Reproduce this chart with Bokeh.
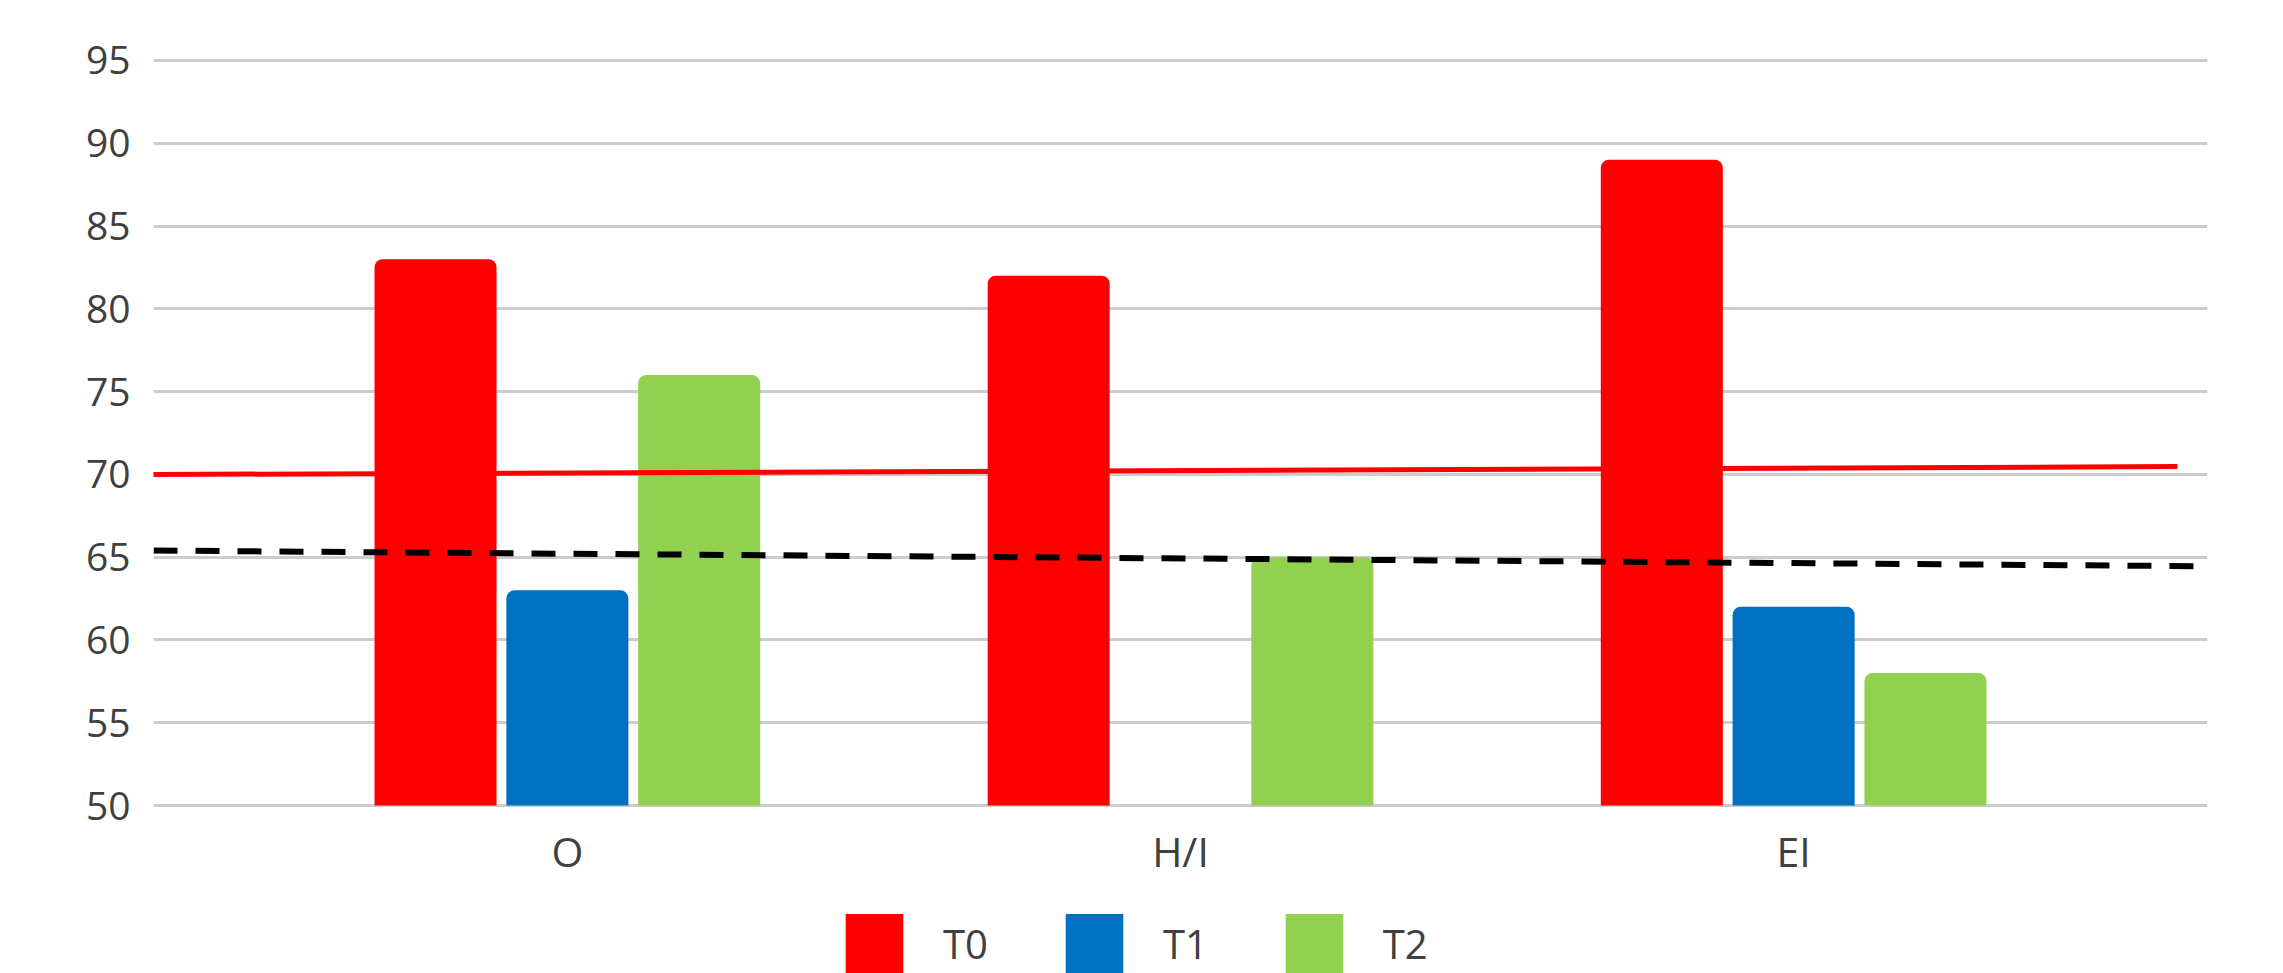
import numpy as np
from bokeh.plotting import figure
from bokeh.models import (ColumnDataSource, FactorRange, Range1d, FixedTicker,
                          Legend, LegendItem)
from bokeh.transform import dodge
from bokeh.embed import file_html
from bokeh.resources import INLINE

# ---- data ----
categories = ["O", "H/I", "EI"]
t0 = [83, 82, 89]
t1 = [63, None, 62]          # no T1 value for H/I
t2 = [76, 65, 58]
series_names = ["T0", "T1", "T2"]
series_colors = ["#FF0000", "#0070C0", "#92D050"]
y_ticks = [50, 55, 60, 65, 70, 75, 80, 85, 90, 95]

# reference lines (synthetic categorical x, value y)
red_line_x = [-0.19, 3.126]
red_line_y = [69.99, 70.47]
dash_line_x = [-0.175, 3.21]
dash_line_y = [65.40, 64.44]


def as_float(vals):
    return np.array([np.nan if v is None else v for v in vals], dtype=float)


source = ColumnDataSource(data=dict(cat=categories, T0=as_float(t0),
                                    T1=as_float(t1), T2=as_float(t2)))

FONT = "Open Sans"
TXT = "#404040"

p = figure(width=2283, height=973, output_backend="svg", toolbar_location=None,
           x_range=FactorRange(factors=categories, range_padding=0.175,
                               range_padding_units="absolute"),
           y_range=Range1d(39.853, 95.181),
           min_border_left=153, min_border_right=76,
           min_border_top=57, min_border_bottom=0)
p.outline_line_color = None
p.background_fill_color = "white"
p.border_fill_color = "white"

# grid
p.xgrid.grid_line_color = None
p.ygrid.grid_line_color = "#cccccc"
p.ygrid.grid_line_width = 3
p.yaxis.ticker = FixedTicker(ticks=y_ticks)

# axes
for ax in (p.xaxis, p.yaxis):
    ax.axis_line_color = None
    ax.major_tick_line_color = None
    ax.minor_tick_line_color = None
    ax.major_label_text_font = FONT
    ax.major_label_text_color = TXT
p.yaxis.major_label_text_font_size = "39px"
p.yaxis.major_label_standoff = 17
p.xaxis.major_label_text_font_size = "41px"
p.xaxis.major_label_standoff = 11
p.xaxis.fixed_location = 50

offsets = [-0.215, 0.0, 0.215]
renderers = []
for name, col, off in zip(series_names, series_colors, offsets):
    r = p.vbar(x=dodge("cat", off, range=p.x_range), top=name, bottom=50,
               width=0.199, source=source, fill_color=col, line_color=None,
               border_radius=(8, 8, 0, 0))
    renderers.append(r)

p.line(red_line_x, red_line_y, line_color="#FF0000", line_width=5)
p.line(dash_line_x, dash_line_y, line_color="black", line_width=6,
       line_dash="24 18")

legend = Legend(items=[LegendItem(label=n, renderers=[r])
                       for n, r in zip(series_names, renderers)],
                orientation="horizontal", location=(685, -7),
                glyph_width=72, glyph_height=74, label_standoff=33,
                spacing=70, padding=0, margin=0,
                border_line_color=None, background_fill_alpha=0,
                label_text_font=FONT, label_text_font_size="40px",
                label_text_color=TXT)
p.add_layout(legend)

open("out.html", "w").write(file_html(p, INLINE))
